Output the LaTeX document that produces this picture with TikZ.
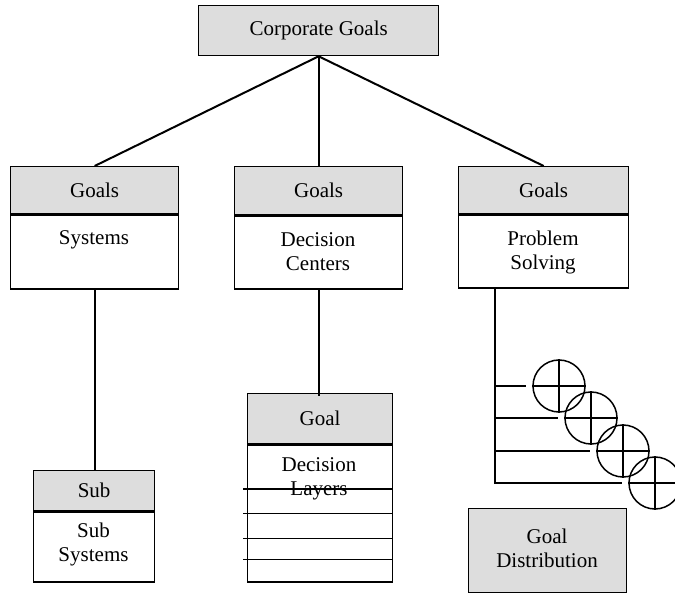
\documentclass[tikz,border=0pt]{standalone}
\usepackage{fontspec}
\setmainfont{Liberation Serif}
\usetikzlibrary{calc}
\definecolor{hdrgray}{HTML}{DDDDDD}
\begin{document}
\begin{tikzpicture}[x=1pt,y=-1pt,
  box/.style={draw, line width=1.3pt, inner sep=0pt, anchor=north west,
    font=\fontsize{21}{24}\selectfont, align=center},
  hdr/.style={box, fill=hdrgray},
  lbl/.style={font=\fontsize{21}{24}\selectfont, align=center, inner sep=0pt},
  link/.style={line width=2pt},
  layer/.style={line width=1.6pt},
  junction/.style={draw, circle, line width=1.5pt, minimum size=52pt, inner sep=0pt}]
\useasboundingbox (0,0) rectangle (675,593);

% top node
\node[hdr, minimum width=240pt, minimum height=50pt] (corp) at (198,5) {Corporate Goals};

% three goal columns
\node[hdr, minimum width=168pt, minimum height=47pt] (h1) at (10,166) {Goals};
\node[box, minimum width=168pt, minimum height=74pt] (b1) at (h1.south west) {};
\node[lbl] (t1) at (94,240) {Systems};

\node[hdr, minimum width=168pt, minimum height=48pt] (h2) at (234,166) {Goals};
\node[box, minimum width=168pt, minimum height=73pt] (b2) at (h2.south west) {};
\node[lbl] (t2) at (318,252) {Decision\\Centers};

\node[hdr, minimum width=170pt, minimum height=47pt] (h3) at (458,166) {Goals};
\node[box, minimum width=170pt, minimum height=73pt] (b3) at (h3.south west) {};
\node[lbl] (t3) at (543,252) {Problem\\Solving};

\draw[link] (corp.south) -- (h1.north);
\draw[link] (corp.south) -- (h2.north);
\draw[link] (corp.south) -- (h3.north);

% sub systems
\node[hdr, minimum width=121pt, minimum height=40pt] (h4) at (33,470) {Sub};
\node[box, minimum width=121pt, minimum height=70pt] (b4) at (h4.south west) {};
\node[lbl] (t4) at (93.5,544) {Sub\\Systems};
\draw[link] (b1.south) -- (b1.south |- h4.north);

% decision layers
\node[hdr, minimum width=145pt, minimum height=50pt] (h5) at (247,393) {Goal};
\node[box, minimum width=145pt, minimum height=137pt] (b5) at (h5.south west) {};
\node[lbl] (t5) at (319,479) {Decision\\Layers};
\draw[link] (b2.south) -- ([yshift=-3pt]b2.south |- h5.north);
\foreach \dy in {45,69,94,115}
  \draw[layer] ($(b5.north west)+(-4,\dy)$) -- ($(b5.north east)+(0,\dy)$);

% problem solving branches
\coordinate (spTop) at ($(b3.south west)+(37,0)$);
\node[junction] (c1) at (559,386) {};
\node[junction] (c2) at (591,418) {};
\node[junction] (c3) at (623,451) {};
\node[junction] (c4) at (655,483) {};
\foreach \c in {c1,c2,c3,c4} {
  \draw[layer] (\c.north) -- (\c.south);
  \draw[layer] (\c.west) -- (\c.east);
}
\draw[link, shorten >=6pt] (spTop) |- (c4.west);
\foreach \c in {c1,c2,c3}
  \draw[link, shorten >=6pt] (\c.west -| spTop) -- (\c.west);

% goal distribution
\node[hdr, minimum width=158pt, minimum height=84pt] (gd) at (468,508) {};
\node[lbl] (tgd) at (547,548) {Goal\\Distribution};
\end{tikzpicture}
\end{document}
